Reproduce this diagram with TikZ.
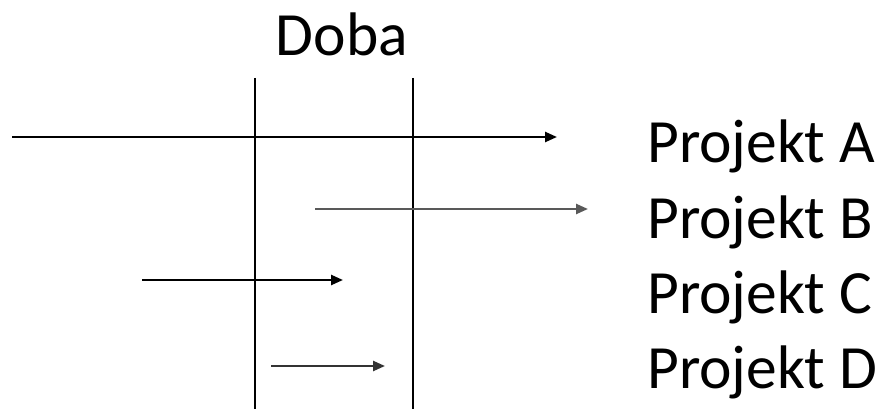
\documentclass[tikz,border=0pt]{standalone}
\usepackage{fontspec}
\setmainfont{Carlito}
\usetikzlibrary{arrows.meta}
\begin{document}
\begin{tikzpicture}[x=1pt,y=-1pt,
  label/.style={inner sep=0pt,anchor=base west,font=\fontsize{61.5}{72}\selectfont},
  marker/.style={line width=2pt,black},
  span/.style={line width=2.4pt,-{Triangle[length=12pt,width=10pt]}},
]
\useasboundingbox (0,0) rectangle (887,409);

% time window boundaries
\coordinate (m1t) at (255,78);  \coordinate (m1b) at (255,409);
\coordinate (m2t) at (413,78);  \coordinate (m2b) at (413,409);
\draw[marker] (m1t) -- (m1b);
\draw[marker] (m2t) -- (m2b);

\node[inner sep=0pt,anchor=base,font=\fontsize{61.5}{72}\selectfont] (doba) at (342,56) {Doba};

% project spans
\coordinate (aS) at (12,137);  \coordinate (aE) at (557,137);
\coordinate (bS) at (315,209); \coordinate (bE) at (588,209);
\coordinate (cS) at (142,280); \coordinate (cE) at (343,280);
\coordinate (dS) at (271,366); \coordinate (dE) at (385,366);
\draw[span] (aS) -- (aE);
\draw[span,black!65] (bS) -- (bE);
\draw[span] (cS) -- (cE);
\draw[span,black!80] (dS) -- (dE);

\node[label] (pa) at (647,163) {Projekt A};
\node[label] (pb) at (647,238) {Projekt B};
\node[label] (pc) at (647,313) {Projekt C};
\node[label] (pd) at (647,388) {Projekt D};
\end{tikzpicture}
\end{document}
